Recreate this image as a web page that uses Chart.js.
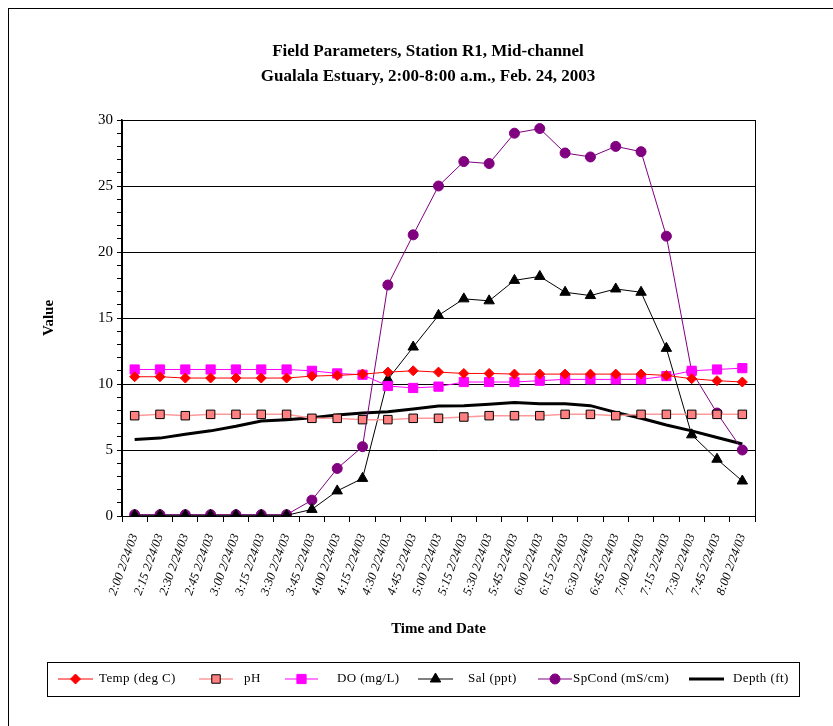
<!DOCTYPE html>
<html>
<head>
<meta charset="utf-8">
<script src="https://cdn.jsdelivr.net/npm/chart.js@4"></script>
<style>
  html, body { margin: 0; padding: 0; background: #fff; }
  #wrap { position: relative; width: 833px; height: 726px; }
</style>
</head>
<body>
<div id="wrap"><canvas id="myChart" width="833" height="726"></canvas></div>
<script>
// Category labels (every 15 min)
const times = ['2:00', '2:15', '2:30', '2:45', '3:00', '3:15', '3:30', '3:45', '4:00', '4:15', '4:30', '4:45',
    '5:00', '5:15', '5:30', '5:45', '6:00', '6:15', '6:30', '6:45', '7:00', '7:15', '7:30', '7:45', '8:00'];
const labels = times.map(t => t + ' 2/24/03');

// Series values
const temp = [10.55, 10.55, 10.45, 10.45, 10.45, 10.45, 10.45, 10.6, 10.65, 10.75, 10.9, 11.0,
    10.9, 10.8, 10.8, 10.75, 10.75, 10.75, 10.75, 10.75, 10.75, 10.65, 10.4, 10.25, 10.15];
const ph = [7.6, 7.7, 7.6, 7.7, 7.7, 7.7, 7.7, 7.4, 7.4, 7.3, 7.3, 7.4,
    7.4, 7.5, 7.6, 7.6, 7.6, 7.7, 7.7, 7.6, 7.7, 7.7, 7.7, 7.7, 7.7];
const dOxy = [11.1, 11.1, 11.1, 11.1, 11.1, 11.1, 11.1, 11.0, 10.8, 10.7, 9.85, 9.7,
    9.8, 10.15, 10.15, 10.15, 10.25, 10.35, 10.35, 10.35, 10.35, 10.6, 11.0, 11.1, 11.2];
const sal = [0.05, 0.05, 0.05, 0.05, 0.05, 0.05, 0.05, 0.5, 1.9, 2.85, 10.35, 12.8,
    15.2, 16.45, 16.3, 17.85, 18.15, 16.95, 16.7, 17.2, 16.95, 12.7, 6.15, 4.3, 2.65];
const spCond = [0.1, 0.1, 0.1, 0.1, 0.1, 0.1, 0.1, 1.2, 3.6, 5.25, 17.5, 21.3,
    25.0, 26.85, 26.7, 29.0, 29.35, 27.5, 27.2, 28.0, 27.6, 21.2, 10.95, 7.8, 5.0];
const depth = [5.8, 5.9, 6.2, 6.45, 6.8, 7.2, 7.3, 7.45, 7.65, 7.8, 7.9, 8.1,
    8.33, 8.36, 8.46, 8.6, 8.5, 8.5, 8.36, 7.85, 7.4, 6.9, 6.45, 5.95, 5.45];

const yTicks = [0, 5, 10, 15, 20, 25, 30];

const FONT = "'Liberation Serif', 'Times New Roman', serif";

// legend layout: [line start, line end, text x]
const legendPos = [[58, 93, 99], [199, 233, 244], [285, 318, 337], [418, 453, 468], [538, 572, 573], [689, 724, 733]];

function drawMarker(ctx, style, x, y, r) {
    if (style === 'rectRot') {
        ctx.moveTo(x, y - r); ctx.lineTo(x + r, y); ctx.lineTo(x, y + r); ctx.lineTo(x - r, y); ctx.closePath();
    } else if (style === 'rect') {
        const h = r * Math.SQRT1_2;
        ctx.rect(x - h, y - h, 2 * h, 2 * h);
    } else if (style === 'triangle') {
        ctx.moveTo(x, y - r); ctx.lineTo(x + r * 0.87, y + r * 0.5); ctx.lineTo(x - r * 0.87, y + r * 0.5); ctx.closePath();
    } else {
        ctx.arc(x, y, r, 0, Math.PI * 2);
    }
}

// Title, frame, plot box and legend drawn on the canvas
const decorPlugin = {
    id: 'decor',
    beforeDraw(chart) {
        const ctx = chart.ctx;
        ctx.save();
        ctx.fillStyle = '#fff';
        ctx.fillRect(0, 0, chart.width, chart.height);
        ctx.strokeStyle = '#000';
        ctx.lineWidth = 1;
        ctx.strokeRect(8.5, 8.5, 900, 900);
        ctx.fillStyle = '#000';
        ctx.font = 'bold 17px ' + FONT;
        ctx.textAlign = 'center';
        ctx.textBaseline = 'alphabetic';
        ctx.fillText('Field Parameters, Station R1, Mid-channel', 428, 56);
        ctx.fillText('Gualala Estuary, 2:00-8:00 a.m., Feb. 24, 2003', 428, 81);
        ctx.restore();
    },
    afterDraw(chart) {
        const ctx = chart.ctx;
        const a = chart.chartArea;
        ctx.save();
        ctx.strokeStyle = '#000';
        ctx.lineWidth = 1;
        ctx.strokeRect(Math.round(a.left) + 0.5, Math.round(a.top) + 0.5,
            Math.round(a.right - a.left), Math.round(a.bottom - a.top));

        // legend box
        ctx.strokeRect(47.5, 662.5, 752, 34);
        const cy = 679;
        ctx.font = '13px ' + FONT;
        ctx.letterSpacing = '0.4px';
        ctx.textBaseline = 'middle';
        ctx.textAlign = 'left';
        chart.data.datasets.forEach((ds, i) => {
            const p = legendPos[i];
            ctx.strokeStyle = ds.borderColor;
            ctx.lineWidth = ds.borderWidth;
            ctx.beginPath();
            ctx.moveTo(p[0], cy);
            ctx.lineTo(p[1], cy);
            ctx.stroke();
            if (ds.pointStyle && ds.pointRadius > 0) {
                ctx.fillStyle = ds.pointBackgroundColor;
                ctx.strokeStyle = ds.pointBorderColor;
                ctx.lineWidth = 1;
                ctx.beginPath();
                drawMarker(ctx, ds.pointStyle, (p[0] + p[1]) / 2, cy, ds.pointRadius);
                ctx.fill();
                ctx.stroke();
            }
            ctx.fillStyle = '#000';
            ctx.fillText(ds.label, p[2], cy);
        });
        ctx.restore();
    }
};

function series(label, data, color, style, radius, fill, border, width) {
    return {
        label: label,
        data: data,
        borderColor: color,
        backgroundColor: fill,
        borderWidth: width,
        pointStyle: style,
        pointRadius: radius,
        pointHoverRadius: radius,
        pointBackgroundColor: fill,
        pointBorderColor: border,
        pointBorderWidth: 1,
        tension: 0
    };
}

const datasets = [
    series('Temp (deg C)', temp, '#ff0000', 'rectRot', 5, '#ff0000', '#ff0000', 1),
    series('pH', ph, '#ff9a9a', 'rect', 6, '#ff8080', '#000000', 1.5),
    series('DO (mg/L)', dOxy, '#ff00ff', 'rect', 6.5, '#ff00ff', '#ff00ff', 1),
    series('Sal (ppt)', sal, '#000000', 'triangle', 6, '#000000', '#000000', 1),
    series('SpCond (mS/cm)', spCond, '#800080', 'circle', 5, '#800080', '#800080', 1),
    series('Depth (ft)', depth, '#000000', false, 0, '#000000', '#000000', 3)
];

const ctx = document.getElementById('myChart').getContext('2d');
const myChart = new Chart(ctx, {
    type: 'line',
    data: { labels: labels, datasets: datasets },
    options: {
        responsive: false,
        animation: false,
        layout: { padding: { left: 40, right: 78, top: 120, bottom: 86 } },
        plugins: {
            legend: { display: false },
            title: { display: false },
            tooltip: { enabled: false }
        },
        scales: {
            x: {
                offset: true,
                afterFit: s => { s.height = 124; },
                grid: {
                    offset: true,
                    drawOnChartArea: false,
                    tickLength: 6,
                    tickColor: '#000'
                },
                border: { display: true, color: '#000' },
                ticks: {
                    autoSkip: false,
                    minRotation: 70,
                    maxRotation: 70,
                    padding: 10,
                    color: '#000',
                    font: { family: FONT, size: 12.5, style: 'italic' }
                },
                title: {
                    display: true,
                    text: 'Time and Date',
                    color: '#000',
                    padding: { top: 0, bottom: 2 },
                    font: { family: FONT, size: 15, weight: 'bold' }
                }
            },
            y: {
                min: 0,
                max: 30,
                afterFit: s => { s.width = 82; },
                afterBuildTicks: s => {
                    const t = [];
                    for (let v = 0; v <= 30; v++) t.push({ value: v });
                    s.ticks = t;
                },
                grid: {
                    color: c => (c.tick && yTicks.includes(c.tick.value)) ? '#000' : 'rgba(0,0,0,0)',
                    tickColor: '#000',
                    tickLength: 5
                },
                border: { display: true, color: '#000', width: 1.5 },
                ticks: {
                    autoSkip: false,
                    color: '#000',
                    padding: 4,
                    callback: v => yTicks.includes(v) ? String(v) : '',
                    font: { family: FONT, size: 15 }
                },
                title: {
                    display: true,
                    text: 'Value',
                    color: '#000',
                    padding: { top: 0, bottom: 18 },
                    font: { family: FONT, size: 15, weight: 'bold' }
                }
            }
        }
    },
    plugins: [decorPlugin]
});
</script>
</body>
</html>
